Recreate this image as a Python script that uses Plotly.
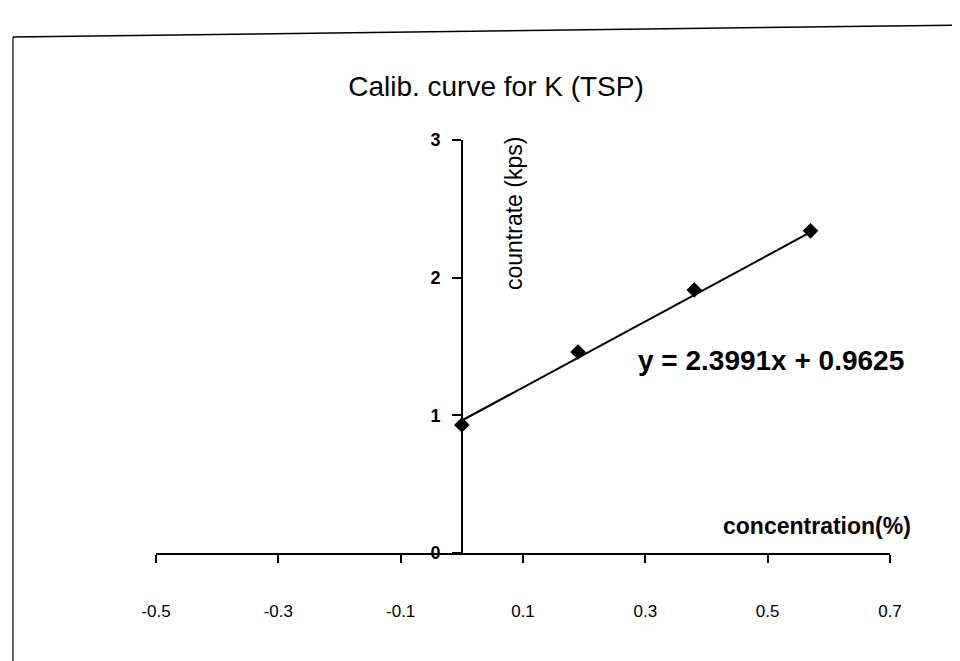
import plotly.graph_objects as go

# Data
conc = [0.0, 0.19, 0.38, 0.57]          # concentration (%)
countrate = [0.93, 1.46, 1.91, 2.34]    # countrate (kps)
slope = 2.3991
intercept = 0.9625
x_ticks = [-0.5, -0.3, -0.1, 0.1, 0.3, 0.5, 0.7]
x_tick_labels = ["-0.5", "-0.3", "-0.1", "0.1", "0.3", "0.5", "0.7"]
y_ticks = [0, 1, 2, 3]
y_tick_labels = ["0", "1", "2", "3"]
title_text = "Calib. curve for K (TSP)"
y_title = "countrate (kps)"
x_title = "concentration(%)"
eq_text = "y = 2.3991x + 0.9625"

FONT = "Arial, Liberation Sans, sans-serif"
W, H = 960, 661
L, R, T, B = 148, 78, 132, 116
x_min, x_max = -0.5, 0.7
y_min, y_max = 0, 3

trend_x = [min(conc), max(conc)]
trend_y = [slope * v + intercept for v in trend_x]

fig = go.Figure()
fig.add_trace(go.Scatter(x=trend_x, y=trend_y, mode="lines",
                         line=dict(color="black", width=2),
                         showlegend=False, hoverinfo="skip"))
fig.add_trace(go.Scatter(x=conc, y=countrate, mode="markers",
                         marker=dict(symbol="diamond", size=12, color="black"),
                         showlegend=False))

pw = W - L - R
ph = H - T - B
yaxis_pos = (0 - x_min) / (x_max - x_min)


def px_x(p):
    return (p - L) / pw


def px_y(p):
    return (H - B - p) / ph


fig.update_layout(
    width=W, height=H,
    margin=dict(l=L, r=R, t=T, b=B),
    paper_bgcolor="white", plot_bgcolor="white",
    font=dict(family=FONT, color="black"),
    xaxis=dict(range=[x_min, x_max], tickvals=x_ticks, ticktext=x_tick_labels,
               showgrid=False, zeroline=False, showline=True, linecolor="black",
               linewidth=1.5, ticks="outside", ticklen=8, tickwidth=1.5,
               tickcolor="black", ticklabelstandoff=34,
               tickfont=dict(family=FONT, size=17, color="black")),
    yaxis=dict(range=[y_min, y_max], tickvals=y_ticks, ticktext=y_tick_labels,
               showgrid=False, zeroline=False, showline=True, linecolor="black",
               linewidth=1.5, ticks="outside", ticklen=9, tickwidth=1.5,
               tickcolor="black", anchor="free", position=yaxis_pos,
               ticklabelstandoff=8,
               tickfont=dict(family=FONT, size=18, color="black", weight="bold")),
    title=dict(text=title_text, x=488 / W, xanchor="center",
               y=1 - 78 / H, yanchor="middle", xref="container", yref="container",
               font=dict(family=FONT, size=28, color="black")),
    annotations=[
        dict(text=y_title, textangle=-90, x=px_x(506), y=px_y(206),
             xanchor="center", yanchor="middle",
             xref="paper", yref="paper", showarrow=False,
             font=dict(family=FONT, size=23, color="black")),
        dict(text=x_title, x=px_x(905), y=px_y(518), xanchor="right",
             yanchor="middle",
             xref="paper", yref="paper", showarrow=False,
             font=dict(family=FONT, size=23, color="black", weight="bold")),
        dict(text=eq_text, x=px_x(628), y=px_y(352), xanchor="left",
             yanchor="middle",
             xref="paper", yref="paper", showarrow=False,
             font=dict(family=FONT, size=28, color="black", weight="bold")),
    ],
    shapes=[
        dict(type="line", xref="paper", yref="paper",
             x0=px_x(5), x1=px_x(960), y0=px_y(29), y1=px_y(17),
             line=dict(color="black", width=1.5)),
        dict(type="line", xref="paper", yref="paper",
             x0=px_x(5), x1=px_x(5), y0=px_y(29), y1=px_y(661),
             line=dict(color="black", width=1.2)),
        dict(type="line", xref="paper", yref="paper",
             x0=px_x(575), x1=px_x(960), y0=px_y(656), y1=px_y(656),
             line=dict(color="black", width=1.5)),
    ],
)

fig.write_html("out.html")
